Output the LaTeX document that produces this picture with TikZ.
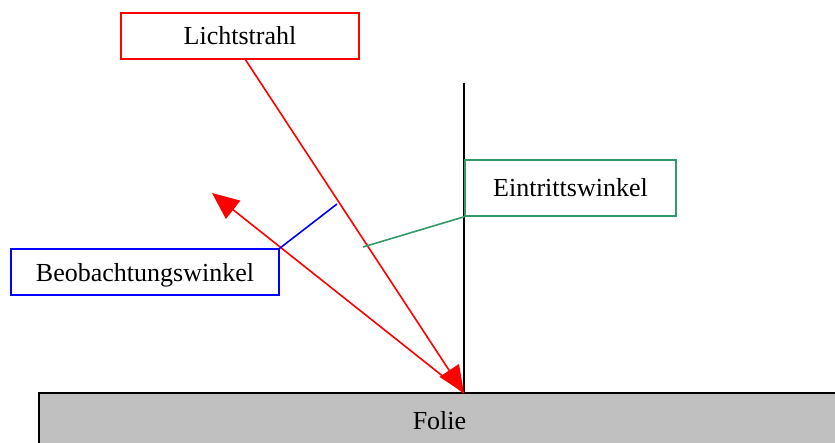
\documentclass[tikz,border=0pt]{standalone}
\usepackage{fontspec}
\setmainfont{Liberation Serif}
\usepackage{tikz}
\usetikzlibrary{arrows.meta}
\definecolor{strahlrot}{RGB}{255, 0, 0}
\definecolor{winkelblau}{RGB}{0, 0, 255}
\definecolor{winkelgruen}{RGB}{51, 153, 102}
\definecolor{foliegrau}{RGB}{192, 192, 192}

\begin{document}
\begin{tikzpicture}[x=1pt, y=-1pt,
    every node/.style={font=\fontsize{26}{30}\selectfont},
    labelbox/.style={draw, line width=1.5pt, fill=white, inner sep=0pt},
    ray/.style={strahlrot, line width=1.6pt, -{Triangle[length=27pt, width=23pt]}}]
\useasboundingbox (0,0) rectangle (835,443);

% Folie
\node[draw, line width=1.5pt, fill=foliegrau, inner sep=0pt,
      minimum width=801pt, minimum height=55pt] (folie) at (439.5,420.5) {Folie};

% Lot
\coordinate (P) at (464,393);
\coordinate (lot) at (464,83);
\draw[line width=1.6pt] (lot) -- (P |- folie.north);

% Labels
\node[labelbox, draw=strahlrot, minimum width=238pt, minimum height=46pt] (licht) at (240,36) {Lichtstrahl};
\node[labelbox, draw=winkelblau, text depth=0pt, minimum width=268pt, minimum height=46pt] (beob) at (145,272) {Beobachtungswinkel};
\node[labelbox, draw=winkelgruen, minimum width=211pt, minimum height=56pt] (eintritt) at (570.5,188) {Eintrittswinkel};

% Strahlen
\coordinate (src) at (245,59);
\coordinate (refl) at (212,193);
\draw[ray] (src) -- (P);
\draw[ray] (P) -- (refl);

% Winkel
\coordinate (bw) at (337,204);
\coordinate (ew) at (363,247);
\draw[winkelblau, line width=1.6pt] (beob.north east) -- (bw);
\draw[winkelgruen, line width=1.6pt] (eintritt.south west) -- (ew);
\end{tikzpicture}
\end{document}
